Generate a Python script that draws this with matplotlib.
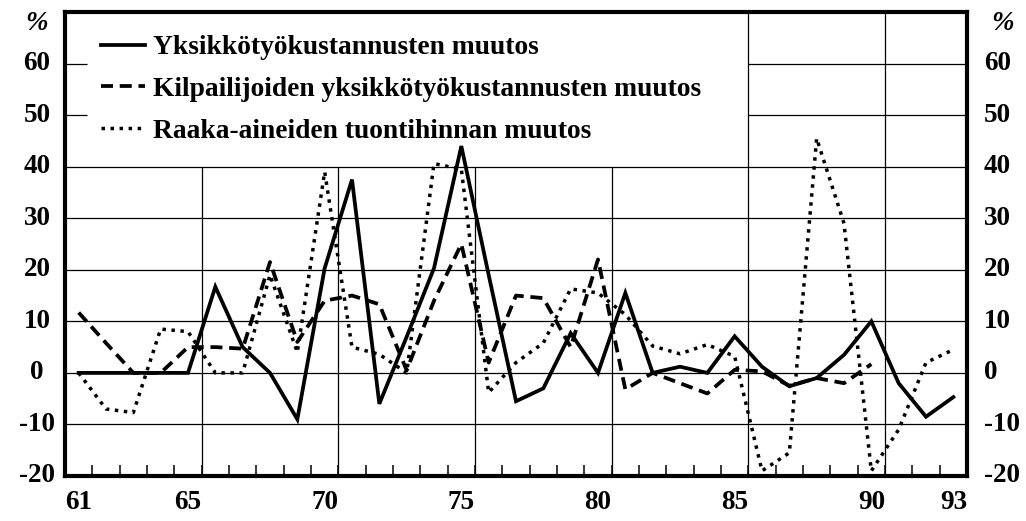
import numpy as np
import matplotlib
matplotlib.use("Agg")
import matplotlib.pyplot as plt
from matplotlib.transforms import blended_transform_factory

# Annual change, per cent
years = list(range(61, 94))

unit_labour_costs = [0, 0, 0, 0, 0, 16.7, 5, 0, -9, 20.3, 37.5, -6, 7, 20.3, 44,
                     19, -5.5, -3, 7.7, 0, 15.5, 0, 1.2, 0, 7.1, 1.2, -2.6, -1,
                     3.5, 10, -2, -8.5, -4.7]

competitors_unit_labour_costs = [11.7, 5.8, 0, 0, 5, 5, 4.7, 21.5, 6, 14, 15, 13.3,
                                 0.5, 14, 25, 2, 15, 14.5, 5, 22, -3.2, 0, -2, -4,
                                 0.6, 0.3, -2.5, -1, -2, 1.7,
                                 np.nan, np.nan, np.nan]

raw_material_import_prices = [0, -7, -7.7, 8.5, 8, 0, 0, 19, 4, 39, 5, 3.6, 0,
                              40.6, 39.5, -3.8, 2, 5.8, 16.3, 15.5, 11.3, 5.2, 3.7,
                              5.5, 3.2, -19, -15.5, 45.5, 29, -19, -11, 2, 4.5]

series_labels = ["Yksikkötyökustannusten muutos",
                 "Kilpailijoiden yksikkötyökustannusten muutos",
                 "Raaka-aineiden tuontihinnan muutos"]

x_tick_years = [61, 65, 70, 75, 80, 85, 90, 93]
y_tick_values = [-20, -10, 0, 10, 20, 30, 40, 50, 60]

SERIF = ["Liberation Serif", "DejaVu Serif"]
FS = 19.5
LEG_FS = 19.8

W, H = 1026, 521
fig = plt.figure(figsize=(W / 100, H / 100), dpi=100)
ax = fig.add_axes([65 / W, 1 - 476 / H, (967 - 65) / W, (476 - 12) / H])
ax.set_xlim(60.5, 93.5)
ax.set_ylim(-20, 70)

for s in ax.spines.values():
    s.set_linewidth(3.0)
    s.set_color("black")

# grid: the legend area in the upper left stays clear
gkw = dict(color="black", linewidth=0.9, zorder=1)
for y in [-10, 0, 10, 20, 30, 40]:
    ax.hlines(y, 60.5, 93.5, **gkw)
for y in [50, 60]:
    ax.hlines(y, 60.5, 61.3, **gkw)
    ax.hlines(y, 85.5, 93.5, **gkw)
for x in [65.5, 70.5, 75.5, 80.5]:
    ax.vlines(x, -20, 40, **gkw)
for x in [85.5, 90.5]:
    ax.vlines(x, -20, 70, **gkw)

ax.plot(years, unit_labour_costs, color="black", lw=2.7, ls="-",
        solid_joinstyle="miter", zorder=4, label=series_labels[0])
ax.plot(years, competitors_unit_labour_costs, color="black", lw=2.7,
        ls=(0, (3.2, 1.8)), dash_capstyle="butt", zorder=3, label=series_labels[1])
ax.plot(years, raw_material_import_prices, color="black", lw=2.5,
        ls=(0, (1.0, 1.6)), dash_capstyle="butt", zorder=3, label=series_labels[2])

# x axis: year labels, inward ticks between years
ax.set_xticks(x_tick_years)
ax.set_xticklabels([str(v) for v in x_tick_years], fontfamily=SERIF,
                   fontweight="bold", fontsize=FS)
ax.tick_params(axis="x", which="major", length=0, pad=10)
ax.set_xticks(np.arange(61.5, 93.0, 1.0), minor=True)
ax.tick_params(axis="x", which="minor", direction="in", length=8, width=1.1)
ax.set_yticks([])

# y labels on both sides
tl = blended_transform_factory(fig.transFigure, ax.transData)
for v in y_tick_values:
    ax.text(37 / W, v, str(v), transform=tl, ha="center", va="center",
            fontfamily=SERIF, fontweight="bold", fontsize=FS, clip_on=False)
    ax.text(984 / W, v, str(v), transform=tl, ha="left", va="center",
            fontfamily=SERIF, fontweight="bold", fontsize=FS, clip_on=False)
ax.text(37 / W, 67.7, "%", transform=tl, ha="center", va="center",
        fontfamily=SERIF, fontweight="bold", fontstyle="italic", fontsize=FS,
        clip_on=False)
ax.text(1003 / W, 67.7, "%", transform=tl, ha="center", va="center",
        fontfamily=SERIF, fontweight="bold", fontstyle="italic", fontsize=FS,
        clip_on=False)

leg = ax.legend(loc="upper left", bbox_to_anchor=(101 / W, 1 - 35 / H),
                bbox_transform=fig.transFigure, frameon=False, borderpad=0,
                borderaxespad=0, handlelength=1.6, handletextpad=0.3,
                labelspacing=0.6,
                prop=dict(family=SERIF, weight="bold", size=LEG_FS))

fig.savefig("out.png", dpi=100)
